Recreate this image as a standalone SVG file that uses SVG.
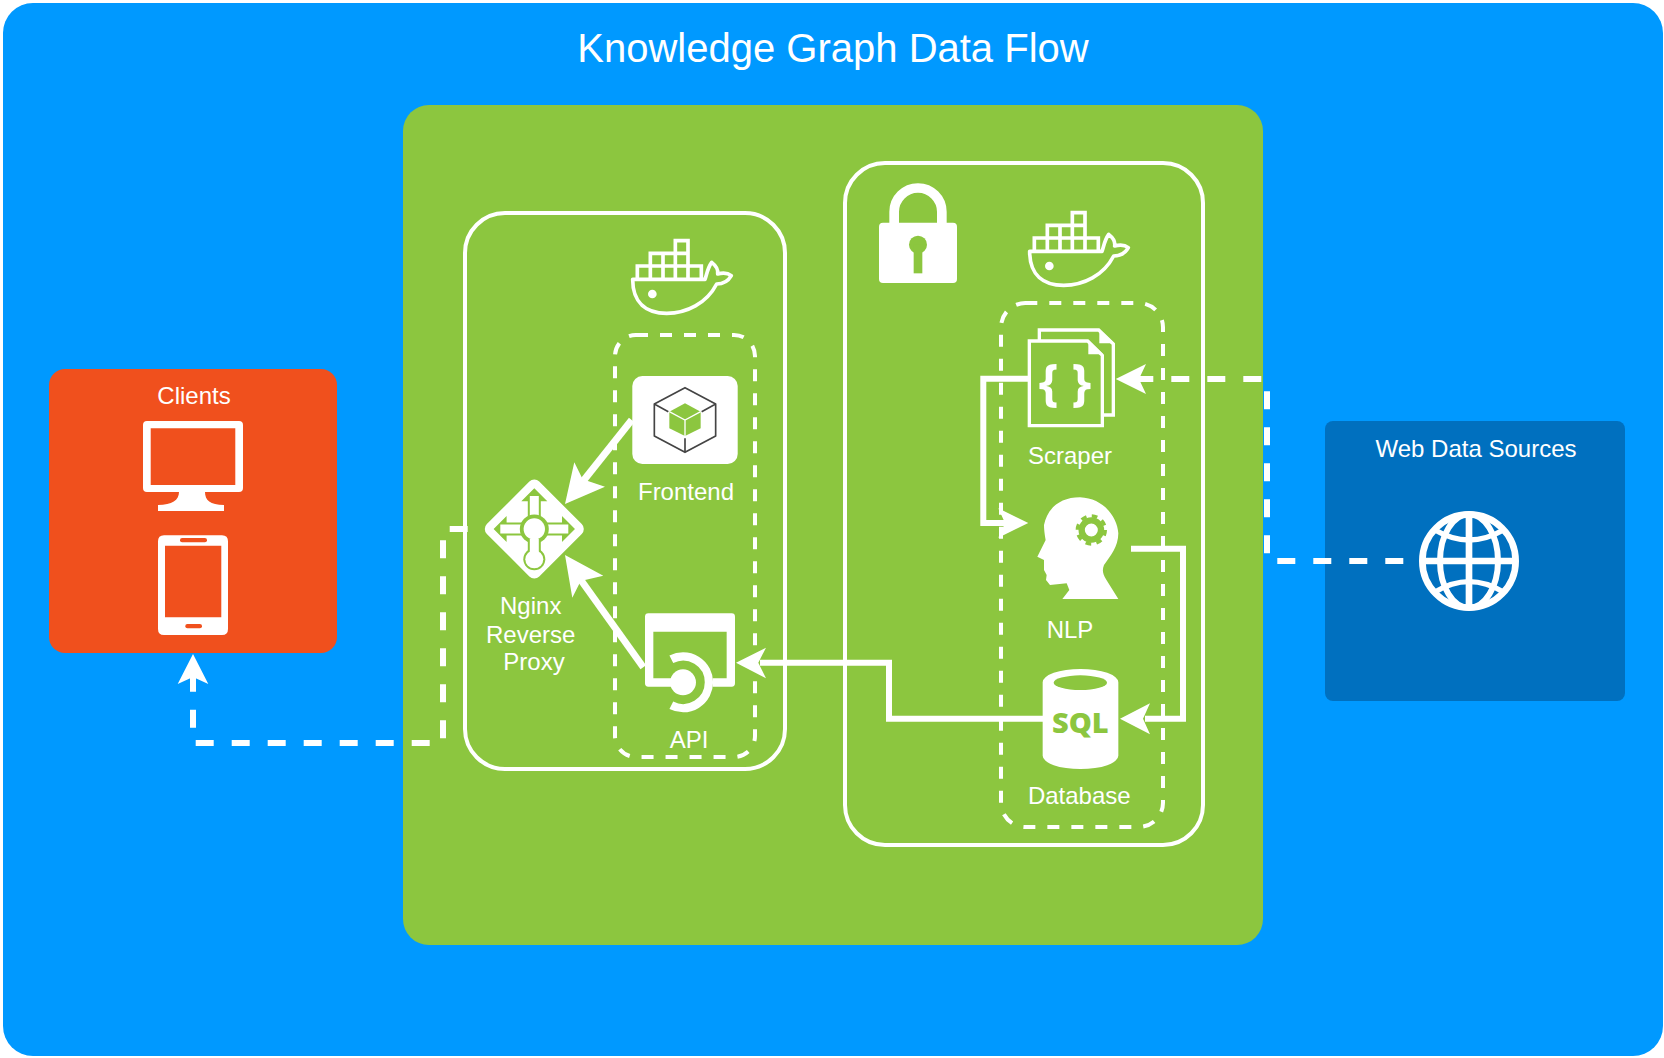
<svg xmlns="http://www.w3.org/2000/svg" xmlns:xlink="http://www.w3.org/1999/xlink" width="1664" height="1058" viewBox="0 0 1664 1058">
<style>
text{font-family:"Liberation Sans",Arial,sans-serif;font-size:24px;fill:#fff;text-anchor:middle}
.g{stroke:#fff;stroke-width:4;fill:none}
.d{stroke:#fff;stroke-width:4;fill:none;stroke-dasharray:12 12}
.c{stroke:#fff;stroke-width:6;fill:none}
.c8{stroke:#fff;stroke-width:7;fill:none}
.cd{stroke:#fff;stroke-width:6;fill:none;stroke-dasharray:18 18}
.h{fill:#fff;stroke:none}
.gr{fill:#8CC63F}
.w{fill:#fff}
</style>
<defs>
<g id="docker" transform="scale(.33333)">
<path d="M592 238V198H631V160H706V122H744V198H784V238M631 198V238M669 160V238M706 160V238M744 198V238M592 198H784M631 160H744" fill="none" stroke="#fff" stroke-width="11"/>
<path d="M578 238H795C800 225 802 205 815 187C828 197 835 210 833 222C848 218 865 220 874 227C865 243 848 252 830 252C800 310 740 340 680 340C620 340 578 310 578 238Z" fill="none" stroke="#fff" stroke-width="11" stroke-linejoin="round"/>
<circle cx="637" cy="282" r="13" fill="#fff"/>
</g>
</defs>
<rect id="canvas" x="3" y="3" width="1660" height="1053" rx="30" fill="#0099FF"/>
<text id="title" x="833" y="62" style="font-size:40px">Knowledge Graph Data Flow</text>
<rect id="host" x="403" y="105" width="860" height="840" rx="26" class="gr"/>

<g id="group-left-container">
<rect x="465" y="213" width="320" height="556" rx="40" class="g"/>
<use xlink:href="#docker" href="#docker" transform="translate(440 200)"/>
<rect x="615" y="335" width="140" height="422" rx="21" class="d"/>
</g>
<g id="group-right-container">
<rect x="845" y="163" width="358" height="682" rx="40" class="g"/>
<use xlink:href="#docker" href="#docker" transform="translate(837 172)"/>
<rect x="1001" y="303" width="162" height="524" rx="24.300" class="d"/>
</g>
<g id="lock" transform="translate(840 160) scale(.33333)">
<path d="M162.500 190V155.500A71.500 71.500 0 0 1 305.500 155.500V190" fill="none" stroke="#fff" stroke-width="29"/>
<rect x="117" y="188" width="234" height="181" rx="12" class="w"/>
<circle cx="234" cy="254" r="27" class="gr"/>
<rect x="221" y="254" width="26" height="86" class="gr"/>
</g>

<g id="clients">
<rect x="49" y="369" width="288" height="284" rx="16" fill="#F0501D"/>
<text x="194" y="404">Clients</text>
<path fill-rule="evenodd" class="w" d="M147 421H239Q243 421 243 425V488Q243 492 239 492H205C205 500 210 505 224 505V511H158V505C172 505 179 500 179 492H147Q143 492 143 488V425Q143 421 147 421ZM150.700 428.300V485H235.300V428.300Z"/>
<path fill-rule="evenodd" class="w" d="M164 535.300H222Q228 535.300 228 541.300V629Q228 635 222 635H164Q158 635 158 629V541.300Q158 535.300 164 535.300ZM165 545.700V617.300H221.300V545.700Z"/>
<rect x="180" y="538" width="27" height="4.300" rx="2.100" fill="#F0501D"/>
<rect x="185.300" y="624" width="16.700" height="4.300" rx="2.100" fill="#F0501D"/>
</g>

<g id="web-data-sources">
<rect x="1325" y="421" width="300" height="280" rx="8" fill="#0070BF"/>
<text x="1476" y="457">Web Data Sources</text>
<g transform="translate(1410 500) scale(.33333)" fill="none" stroke="#fff">
<circle cx="177" cy="183" r="140" stroke-width="20"/>
<ellipse cx="177" cy="183" rx="87" ry="140" stroke-width="18"/>
<path d="M177 43V323M37 183H317" stroke-width="20"/>
<path d="M75 90Q177 150 280 90M75 276Q177 214 280 276" stroke-width="16"/>
</g>
</g>

<g id="nginx">
<polygon points="534.300,486.500 576.800,529 534.300,571.500 491.800,529" class="w" stroke="#fff" stroke-width="14" stroke-linejoin="round"/>
<g transform="translate(534.300 529)">
<path class="gr" d="M0 -40.700L13 -27.700H6.500V-6.500H27.700V-13L40.700 0L27.700 13V6.500H6.500V24H-6.500V6.500H-27.700V13L-40.700 0L-27.700 -13V-6.500H-6.500V-27.700H-13Z"/>
<path class="w" d="M-4.500 -33H4.500V0H-4.500ZM-34 -4.500H34V4.500H-34Z"/>
<circle r="14.500" class="gr"/>
<circle r="10.700" class="w"/>
<circle cy="30.300" r="11" class="gr"/>
<circle cy="30.300" r="9" class="w"/>
<rect x="-4.500" y="10" width="9" height="18" class="w"/>
</g>
<text x="530.700" y="614">Nginx</text>
<text x="530.700" y="642.500">Reverse</text>
<text x="534" y="670">Proxy</text>
</g>

<g id="frontend">
<rect x="632.300" y="376" width="105.400" height="88" rx="10" class="w"/>
<g transform="translate(440 200) scale(.33333)">
<path d="M735 563L827 612V708L735 757L643 708V612ZM643 612L685 635M827 612L785 635M735 757V715" fill="none" stroke="#444" stroke-width="5" stroke-linejoin="round"/>
<path d="M735 610L782 635V685L735 708L688 685V635Z" class="gr"/>
<path d="M688 635L735 660L782 635M735 660V708" fill="none" stroke="#fff" stroke-width="4"/>
</g>
<text x="686" y="500">Frontend</text>
</g>

<g id="api">
<g transform="translate(440 460) scale(.33333)">
<path fill-rule="evenodd" class="w" d="M625 460H875Q885 460 885 470V670Q885 680 875 680H625Q615 680 615 670V470Q615 460 625 460ZM640 515V655H860V515Z"/>
<rect x="700" y="654" width="118" height="27" class="gr"/>
<path d="M694 598A77.500 77.500 0 1 1 694 736" fill="none" stroke="#fff" stroke-width="25"/>
<circle cx="729" cy="667" r="39" class="w"/>
</g>
<text x="689" y="748">API</text>
</g>

<g id="scraper">
<g transform="translate(840 160) scale(.33333)">
<path d="M598 540V510H776L820 552V765H790" class="gr" stroke="#fff" stroke-width="10"/>
<path d="M778 507V550H823Z" class="w"/>
<path d="M568 543H743L787 586V797H568Z" class="gr" stroke="#fff" stroke-width="10"/>
<path d="M745 540V583H790Z" class="w"/>
</g>
<text x="1065" y="399.500" style="font-family:'Open Sans',sans-serif;font-weight:700;font-size:50px">{ }</text>
<text x="1070" y="464">Scraper</text>
</g>

<g id="nlp">
<g transform="translate(1030 490) scale(.33333)">
<path class="w" d="M97 327H265L228 268C218 250 216 240 222 225C240 200 265 170 265 130C262 80 220 25 150 22C90 22 52 55 42 105C42 125 47 150 47 150L22 200L42 210V240L50 255L48 270L60 285L110 280L118 300Z"/>
<circle cx="184" cy="120" r="29" fill="none" stroke="#8CC63F" stroke-width="19"/>
<circle cx="184" cy="120" r="42" fill="none" stroke="#8CC63F" stroke-width="10" stroke-dasharray="17 16"/>
</g>
<text x="1070" y="638">NLP</text>
</g>

<g id="database">
<g transform="translate(1030 660) scale(.33333)">
<path class="w" d="M38 67A113 40 0 0 1 265 67V287A113 40 0 0 1 38 287Z"/>
<ellipse cx="151" cy="68" rx="80" ry="22" class="gr"/>
</g>
<text x="1080.300" y="732.700" style="font-family:'Open Sans',sans-serif;font-weight:800;font-size:29px;fill:#8CC63F">SQL</text>
<text x="1079.300" y="804">Database</text>
</g>

<g id="connectors">
<path class="cd" d="M467.700 529H443V743H193V672"/>
<polygon class="h" points="193,654 177.700,684 193,677 208.300,684"/>
<path class="c8" d="M631.700 420L580 485"/>
<polygon class="h" points="565,504 574.300,462.300 582.700,479.300 605,486.700"/>
<path class="c8" d="M643.300 667.300L578 576"/>
<polygon class="h" points="565,555 603.300,575.700 580.700,581 572.300,597.700"/>
<path class="c" d="M1043 718.700H889V662.700H760"/>
<polygon class="h" points="736,662.700 766,647.700 758.300,662.700 766,678.300"/>
<path class="c" d="M1028 378.700H983.300V523H1006"/>
<polygon class="h" points="1028.300,523 998.300,508.300 1005,523 998.300,537.700"/>
<path class="c" d="M1131 548.700H1183V718.700H1145"/>
<polygon class="h" points="1120,718.700 1150,703.300 1143,718.700 1150,734.300"/>
<path class="cd" d="M1403.300 561H1267V379H1135"/>
<polygon class="h" points="1115.700,379 1146,364 1139,379 1146,394"/>
</g>
</svg>
